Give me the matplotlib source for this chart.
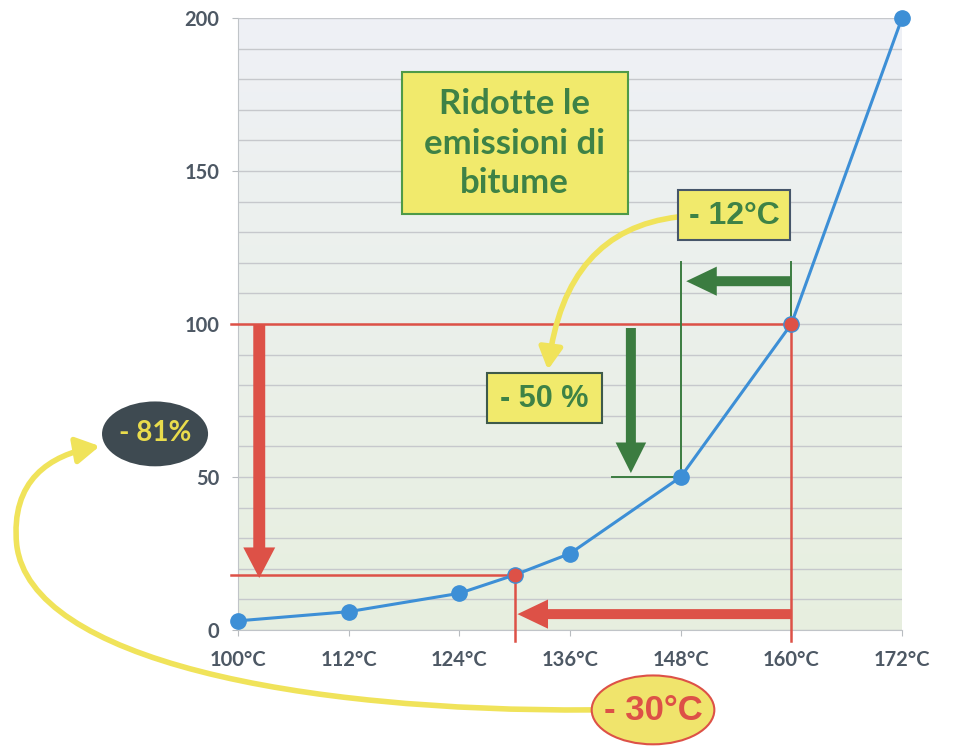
import numpy as np
import matplotlib.pyplot as plt
from matplotlib.patches import FancyArrowPatch, Rectangle, Ellipse, ArrowStyle
from matplotlib.path import Path

# data
temps = [100, 112, 124, 130, 136, 148, 160, 172]
emissions = [3, 6, 12, 18, 25, 50, 100, 200]
highlight = [False, False, False, True, False, False, True, False]
xticks = [100, 112, 124, 136, 148, 160, 172]
xticklabels = ["100°C", "112°C", "124°C", "136°C", "148°C", "160°C", "172°C"]
yticks = [0, 50, 100, 150, 200]

RED = "#dd5147"
GREEN = "#3b7c40"
TXT_GREEN = "#3e8246"
BLUE = "#3d8fd6"
YELLOW = "#f1ea6c"
ARC_YELLOW = "#f0e35a"
GRAY = "#4d5864"
NARROW = ["Liberation Sans Narrow", "Liberation Sans"]

fig = plt.figure(figsize=(9.7, 7.52), dpi=100)
ax = fig.add_axes([0.2454, 0.1622, 0.6845, 0.8138])

# background gradient (bluish white on top, pale green at the bottom)
top = np.array([0.937, 0.945, 0.965])
bot = np.array([0.906, 0.937, 0.875])
t = np.linspace(0, 1, 256)[:, None]
grad = (bot * (1 - t) + top * t)[:, None, :]
ax.imshow(grad, extent=[100, 172, 0, 200], origin="lower", aspect="auto", zorder=0)

ax.set_xlim(100, 172)
ax.set_ylim(0, 200)
ax.set_xticks(xticks)
ax.set_xticklabels(xticklabels)
ax.set_yticks(yticks)
ax.set_yticks(range(0, 201, 10), minor=True)
ax.grid(axis="y", which="both", color="#c6c8cc", lw=1)
ax.set_axisbelow(True)
for s in ["top", "right"]:
    ax.spines[s].set_visible(False)
for s in ["left", "bottom"]:
    ax.spines[s].set_color("#c0c4c8")
ax.tick_params(which="minor", length=0)
ax.tick_params(which="major", length=4.5, color="#b8bcc0", labelcolor=GRAY)
ax.tick_params(axis="x", pad=10)
ax.tick_params(axis="y", pad=9)
for lab in ax.get_xticklabels() + ax.get_yticklabels():
    lab.set_fontfamily("Lato")
    lab.set_fontweight("bold")
    lab.set_fontsize(14.5)

# red reference lines
x_new, y_new = temps[3], emissions[3]
x_old, y_old = temps[6], emissions[6]
ax.plot([99.2, x_old], [y_old, y_old], color=RED, lw=1.8, clip_on=False, zorder=3)
ax.plot([x_old, x_old], [y_old, -3.6], color=RED, lw=1.8, clip_on=False, zorder=3)
ax.plot([99.2, x_new], [y_new, y_new], color=RED, lw=1.8, clip_on=False, zorder=3)
ax.plot([x_new, x_new], [y_new, -3.6], color=RED, lw=1.8, clip_on=False, zorder=3)

# green reference lines
ax.plot([148, 148], [50, 120.3], color=GREEN, lw=1.4, zorder=3)
ax.plot([160, 160], [100, 120.3], color=GREEN, lw=1.4, zorder=3)
ax.plot([140.6, 148], [50, 50], color=GREEN, lw=1.4, zorder=3)


def block_arrow(a, b, color, tail, head_w, head_l):
    st = ArrowStyle("simple", head_length=head_l, head_width=head_w, tail_width=tail)
    p = FancyArrowPatch(a, b, arrowstyle=st, mutation_scale=1, shrinkA=0, shrinkB=0,
                        color=color, lw=0, zorder=4, clip_on=False)
    ax.add_patch(p)


block_arrow((102.3, 100), (102.3, 17), RED, 8.6, 23, 22)
block_arrow((160, 5.2), (130.3, 5.2), RED, 7.2, 21, 22)
block_arrow((159.9, 114), (148.6, 114), GREEN, 7.2, 21, 22)
block_arrow((142.6, 98.7), (142.6, 51.3), GREEN, 7.2, 22, 22)

# emission curve
ax.plot(temps, emissions, color=BLUE, lw=2.2, zorder=5, clip_on=False)
for xv, yv, h in zip(temps, emissions, highlight):
    ax.plot(xv, yv, "o", ms=11, mfc=RED if h else BLUE,
            mec=BLUE, mew=1, zorder=6, clip_on=False)

# text boxes
ax.add_patch(Rectangle((117.8, 135.9), 24.5, 46.5, fc=YELLOW, ec="#4e9a48", lw=1.5, zorder=7))
ax.text(130.0, 159.0, "Ridotte le\nemissioni di\nbitume", ha="center", va="center",
        fontsize=25, fontweight="bold", family="Lato", color=TXT_GREEN,
        linespacing=1.3, zorder=8)

ax.add_patch(Rectangle((147.7, 127.5), 12.2, 16.3, fc=YELLOW, ec="#46566a", lw=1.5, zorder=7))
ax.text(153.8, 135.4, "- 12°C", ha="center", va="center", fontsize=23, fontweight="bold",
        family=NARROW, color=TXT_GREEN, zorder=8)

ax.add_patch(Rectangle((127.0, 67.6), 12.5, 16.4, fc=YELLOW, ec="#3e5a4a", lw=1.5, zorder=7))
ax.text(133.2, 75.6, "- 50 %", ha="center", va="center", fontsize=22, fontweight="bold",
        family=NARROW, color=TXT_GREEN, zorder=8)

ax.add_patch(Ellipse((91.0, 64.1), 11.5, 21.2, fc="#3e4a51", ec="none", zorder=7, clip_on=False))
ax.text(91.0, 64.3, "- 81%", ha="center", va="center", fontsize=20, fontweight="bold",
        family="Lato", color="#e9dc4c", zorder=8, clip_on=False)

ax.add_patch(Ellipse((145.0, -26.1), 13.3, 22.5, fc="#f0e46c", ec=RED, lw=1.5, zorder=7, clip_on=False))
ax.text(145.0, -26.3, "- 30°C", ha="center", va="center", fontsize=25, fontweight="bold",
        family=NARROW, color=RED, zorder=8, clip_on=False)

# yellow curved arrows
arc1 = Path([(147.7, 135.0), (135.5, 130.7), (133.6, 85.0)],
            [Path.MOVETO, Path.CURVE3, Path.CURVE3])
ax.add_patch(FancyArrowPatch(path=arc1, arrowstyle="-|>,head_length=13,head_width=7",
                             mutation_scale=1, color=ARC_YELLOW, lw=4, zorder=6,
                             transform=ax.transData))

arc2 = Path([(138.4, -26.1), (106.7, -26.8), (77.5, -9.8), (76.0, 27.8),
             (75.3, 49.0), (79.6, 57.2), (85.0, 60.1)],
            [Path.MOVETO, Path.CURVE4, Path.CURVE4, Path.CURVE4,
             Path.CURVE4, Path.CURVE4, Path.CURVE4])
arrow2 = FancyArrowPatch(path=arc2, arrowstyle="-|>,head_length=14,head_width=8",
                         mutation_scale=1, color=ARC_YELLOW, lw=4, zorder=6,
                         transform=ax.transData)
arrow2.set_clip_on(False)
ax.add_patch(arrow2)

fig.savefig("out.png", dpi=100)
